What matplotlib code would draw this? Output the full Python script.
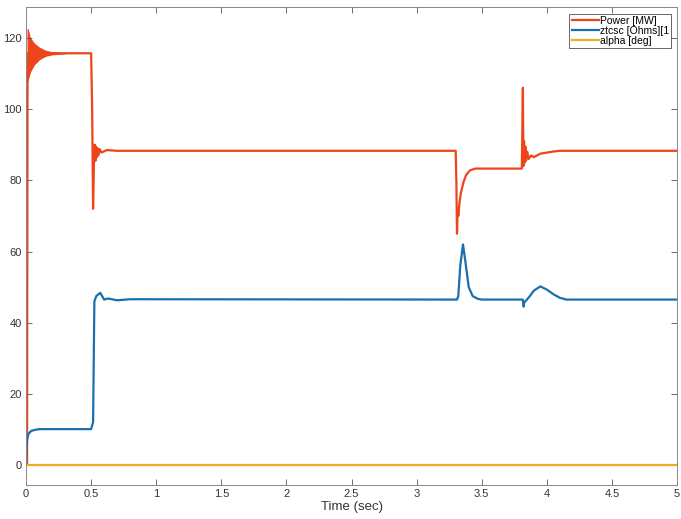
import numpy as np
import matplotlib
matplotlib.use("Agg")
from matplotlib import pyplot as plt

plt.rcParams['font.family'] = ['Liberation Sans', 'DejaVu Sans']

# 01 - values
power_t = [0.0, 0.008, 0.012, 0.3, 0.5, 0.508, 0.515, 0.522, 0.528, 0.533, 0.538, 0.543, 0.548, 0.555,
           0.565, 0.58, 0.62, 0.7, 3.3, 3.305, 3.31, 3.315, 3.32, 3.33, 3.34, 3.36, 3.38, 3.41, 3.45,
           3.808, 3.812, 3.816, 3.82, 3.825, 3.83, 3.835, 3.84, 3.85, 3.86, 3.88, 3.9, 3.95, 4.0,
           4.05, 4.1, 4.15, 5.0]
power_v = [0.0, 0.0, 115.7, 115.7, 115.7, 100.0, 72.0, 86.0, 90.0, 85.5, 89.5, 86.5, 89.0, 87.0,
           88.8, 87.8, 88.5, 88.3, 88.3, 80.0, 65.0, 72.0, 70.0, 74.0, 76.5, 79.5, 81.5, 82.8, 83.3,
           83.3, 95.0, 106.0, 84.0, 91.0, 85.0, 89.5, 85.5, 88.0, 86.0, 87.0, 86.5, 87.5, 87.8,
           88.1, 88.3, 88.3, 88.3]

# start-up ripple of the power trace (upper / lower envelope)
ripple_t = [0.012, 0.03, 0.06, 0.1, 0.15, 0.2, 0.3]
ripple_hi = [122.5, 120.0, 118.5, 117.3, 116.4, 116.0, 115.7]
ripple_lo = [108.0, 110.5, 112.5, 114.0, 115.0, 115.4, 115.7]

z_t = [0.0, 0.004, 0.01, 0.02, 0.04, 0.07, 0.1, 0.5, 0.515, 0.525, 0.54, 0.57, 0.6, 0.63, 0.7,
       0.8, 3.31, 3.32, 3.335, 3.356, 3.375, 3.4, 3.43, 3.47, 3.5, 3.815, 3.822, 3.826, 3.832,
       3.84, 3.87, 3.9, 3.95, 4.0, 4.05, 4.1, 4.15, 5.0]
z_v = [0.0, 5.0, 7.5, 8.8, 9.6, 9.9, 10.1, 10.1, 12.0, 46.0, 47.5, 48.4, 46.5, 46.8, 46.3,
       46.6, 46.5, 47.5, 56.0, 62.0, 57.0, 50.0, 47.5, 46.7, 46.5, 46.5, 44.5, 45.5, 46.0,
       46.2, 47.5, 49.0, 50.2, 49.3, 48.0, 47.0, 46.5, 46.5]

alpha_t = [0.0, 5.0]
alpha_v = [0.0, 0.0]

labels = ["Power [MW]", "ztcsc [Ohms][1", "alpha [deg]"]
colors = ["#EE4419", "#1A6FAE", "#EDB120"]

# 02 - figure
fig = plt.figure(figsize=(6.81, 5.19), dpi=100)
ax = fig.add_axes([0.0382, 0.0655, 0.956, 0.921])

ax.fill_between(ripple_t, ripple_lo, ripple_hi, color=colors[0], lw=0.8)
ax.plot(power_t, power_v, color=colors[0], lw=1.6, label=labels[0])
ax.plot(z_t, z_v, color=colors[1], lw=1.6, label=labels[1])
ax.plot(alpha_t, alpha_v, color=colors[2], lw=1.6, label=labels[2])

ax.set_xlim(0, 5)
ax.set_ylim(-5.6, 128.7)
ax.set_xticks(np.arange(0, 5.01, 0.5))
ax.set_xticklabels(["0", "0.5", "1", "1.5", "2", "2.5", "3", "3.5", "4", "4.5", "5"])
ax.set_yticks(range(0, 121, 20))
ax.tick_params(direction="in", top=True, right=True, length=4, width=0.6,
               colors="#555555", labelsize=8, labelcolor="#333333", pad=3)
for s in ax.spines.values():
    s.set_color("#888888")
    s.set_linewidth(0.7)
ax.set_xlabel("Time (sec)", fontsize=9.5, color="#333333", labelpad=1)

leg = ax.legend(loc="upper right", bbox_to_anchor=(671 / 681, 1 - 14 / 519),
                bbox_transform=fig.transFigure, fontsize=7.5, handlelength=2.6,
                handletextpad=0.1, borderpad=0.2, labelspacing=0.0,
                fancybox=False, framealpha=1, borderaxespad=0)
leg.get_frame().set_edgecolor("#666666")
leg.get_frame().set_linewidth(0.7)

fig.savefig("out.png", dpi=100)
